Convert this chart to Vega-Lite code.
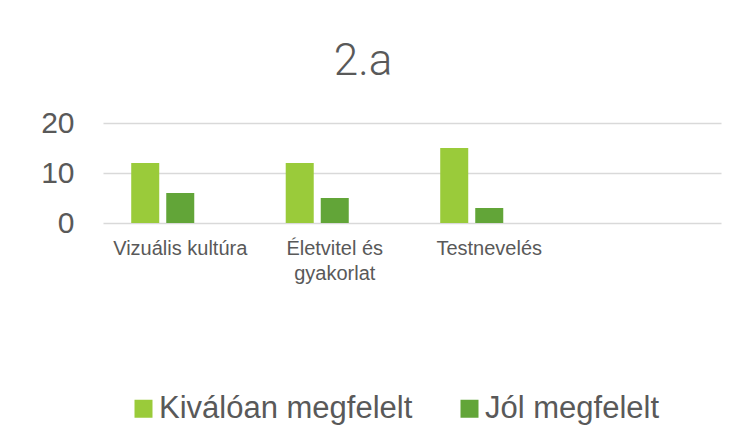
{
  "$schema": "https://vega.github.io/schema/vega-lite/v6.json",
  "autosize": "none",
  "width": 618,
  "height": 100,
  "padding": {"left": 103, "top": 123, "right": 34, "bottom": 202},
  "background": "white",
  "title": {
    "text": "2.a",
    "fontSize": 44,
    "font": "Roboto",
    "fontWeight": 300,
    "color": "#595959",
    "anchor": "middle",
    "dx": -49,
    "baseline": "alphabetic",
    "offset": -11
  },
  "data": {
    "values": [
      {"targy": "Vizuális kultúra", "ertekeles": "Kiválóan megfelelt", "db": 12},
      {"targy": "Vizuális kultúra", "ertekeles": "Jól megfelelt", "db": 6},
      {"targy": "Életvitel és gyakorlat", "ertekeles": "Kiválóan megfelelt", "db": 12},
      {"targy": "Életvitel és gyakorlat", "ertekeles": "Jól megfelelt", "db": 5},
      {"targy": "Testnevelés", "ertekeles": "Kiválóan megfelelt", "db": 15},
      {"targy": "Testnevelés", "ertekeles": "Jól megfelelt", "db": 3}
    ]
  },
  "mark": {"type": "bar"},
  "encoding": {
    "x": {
      "field": "targy",
      "type": "nominal",
      "sort": null,
      "scale": {
        "domain": ["Vizuális kultúra", "Életvitel és gyakorlat", "Testnevelés", " "],
        "paddingInner": 0.32,
        "paddingOuter": 0.16
      },
      "axis": {
        "title": null,
        "labelAngle": 0,
        "domain": false,
        "ticks": false,
        "labelFont": "Liberation Sans",
        "labelFontSize": 20,
        "labelColor": "#595959",
        "labelPadding": 15,
        "labelLineHeight": 25,
        "labelExpr": "datum.value == 'Életvitel és gyakorlat' ? ['Életvitel és', 'gyakorlat'] : datum.value"
      }
    },
    "xOffset": {
      "field": "ertekeles",
      "type": "nominal",
      "scale": {
        "domain": ["Kiválóan megfelelt", "Jól megfelelt", "_"],
        "paddingInner": 0.2,
        "paddingOuter": 0.1
      }
    },
    "y": {
      "field": "db",
      "type": "quantitative",
      "scale": {"domain": [0, 20]},
      "axis": {
        "title": null,
        "values": [0, 10, 20],
        "domain": false,
        "ticks": false,
        "labelFont": "Liberation Sans",
        "labelFontSize": 30,
        "labelColor": "#595959",
        "labelPadding": 29,
        "gridColor": "#d9d9d9",
        "gridWidth": 1.5
      }
    },
    "color": {
      "field": "ertekeles",
      "type": "nominal",
      "scale": {
        "domain": ["Kiválóan megfelelt", "Jól megfelelt"],
        "range": ["#9ACB3A", "#62A538"]
      },
      "legend": {
        "title": null,
        "orient": "none",
        "direction": "horizontal",
        "legendX": 25,
        "legendY": 270,
        "symbolType": "square",
        "symbolSize": 324,
        "symbolStrokeWidth": 0,
        "labelFont": "Liberation Sans",
        "labelFontSize": 31,
        "labelColor": "#595959",
        "labelOffset": 0,
        "columnPadding": 41,
        "labelLimit": 400
      }
    }
  },
  "config": {"view": {"stroke": null}}
}
